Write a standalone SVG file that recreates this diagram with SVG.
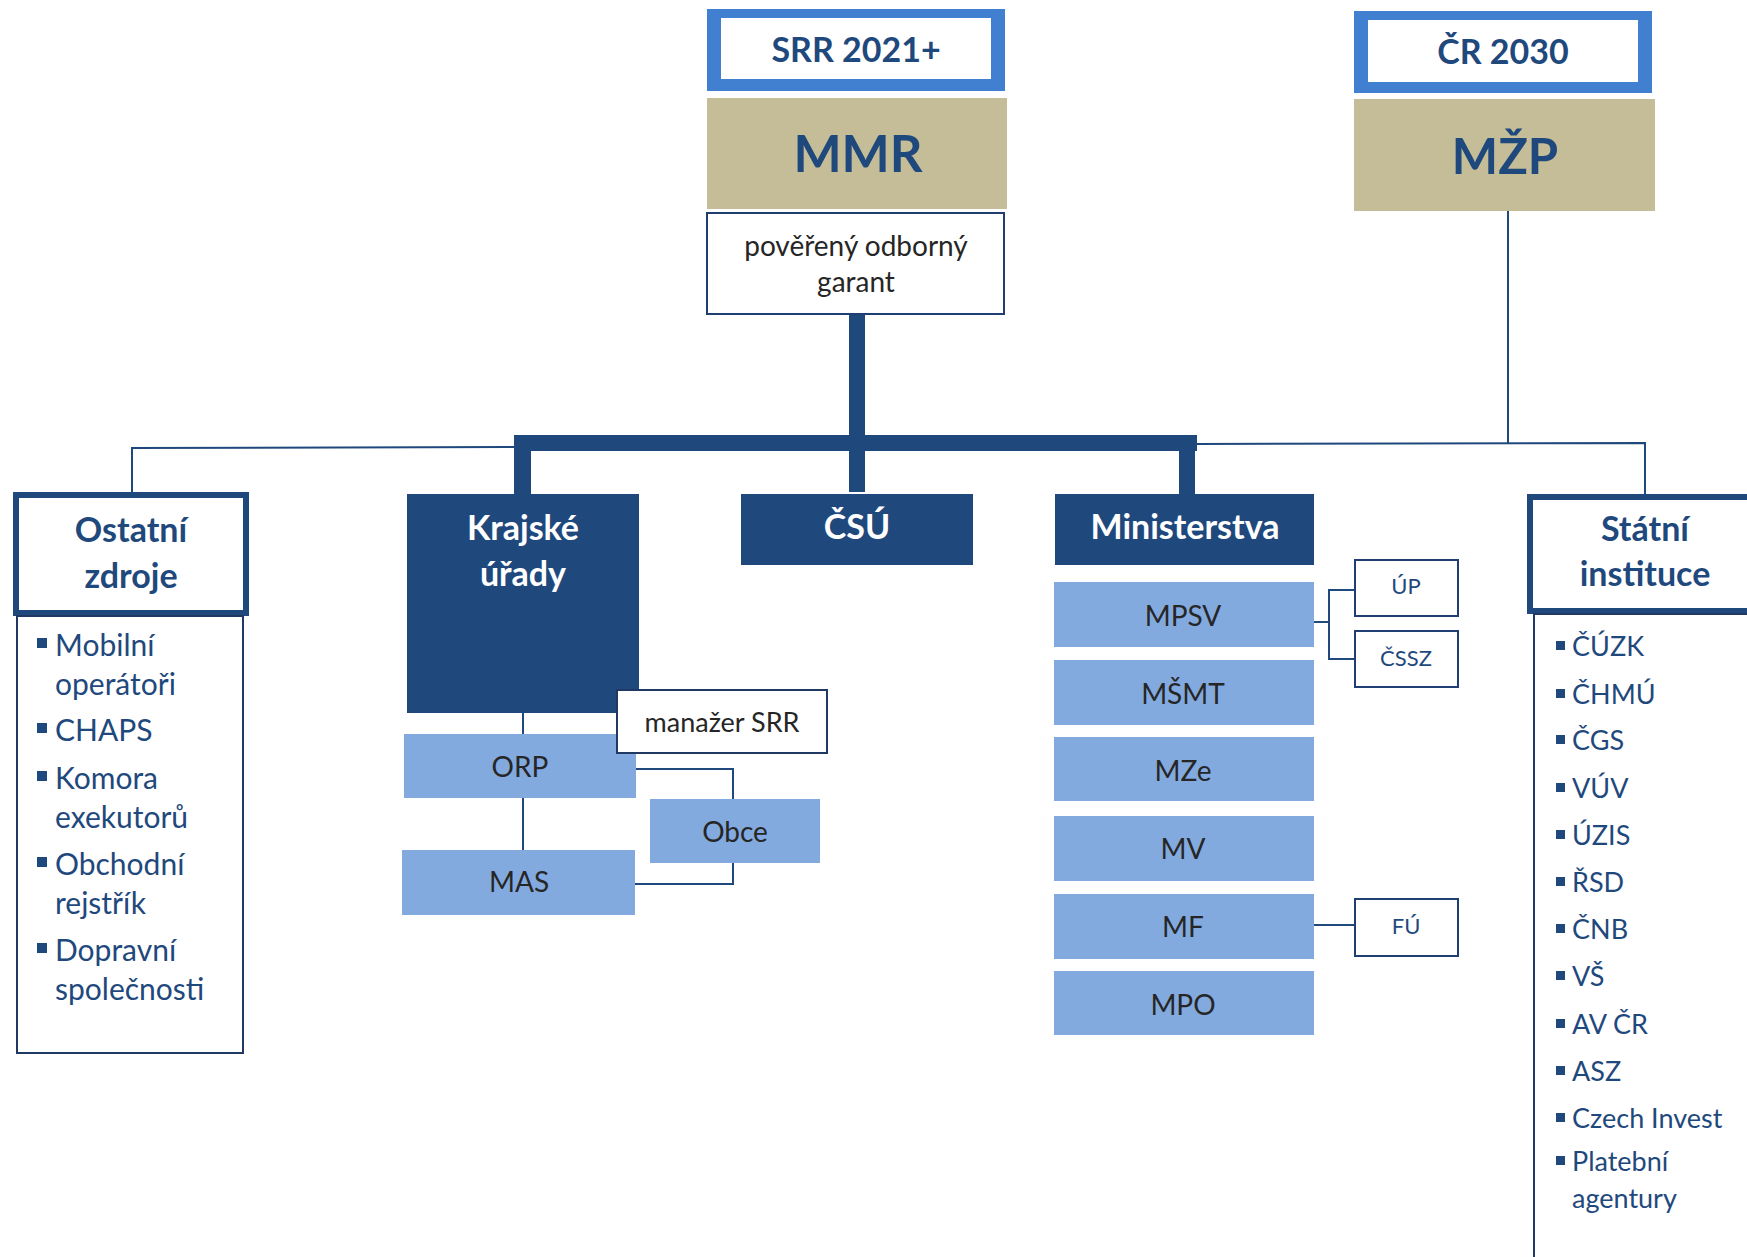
<svg xmlns="http://www.w3.org/2000/svg" width="1747" height="1257" viewBox="0 0 1747 1257">
<style>
text{font-family:Lato,"Open Sans","Liberation Sans",sans-serif;text-anchor:middle}
.navy{fill:#1F497D}
.light{fill:#82AADF}
.tan{fill:#C4BD97}
.hdr{font-weight:700;font-size:34px;fill:#1F497D}
.wt{font-weight:700;font-size:34px;fill:#fff}
.dk{font-size:28px;fill:#262626}
.sm{font-size:22px;fill:#1F497D}
.li{font-size:30px;fill:#1F497D;text-anchor:start}
.ri{font-size:27px;fill:#1F497D;text-anchor:start}
.thin{fill:none;stroke:#1F497D;stroke-width:2}
.thick{fill:#1F497D}
.box{fill:#fff;stroke:#1F3F73;stroke-width:2}
.bul{fill:#1F497D}
</style>
<g id="connectors">
<rect class="thick" x="849" y="314" width="16" height="125"/>
<rect class="thick" x="514" y="435" width="683" height="16"/>
<rect class="thick" x="514" y="449" width="17" height="46"/>
<rect class="thick" x="849" y="449" width="16" height="43"/>
<rect class="thick" x="1179" y="449" width="16" height="46"/>
<polyline class="thin" points="514,447 132,448 132,494"/>
<polyline class="thin" points="1197,444 1645,443 1645,496"/>
<line class="thin" x1="1508" y1="211" x2="1508" y2="444"/>
<line class="thin" x1="523" y1="712" x2="523" y2="735"/>
<line class="thin" x1="523" y1="797" x2="523" y2="851"/>
<polyline class="thin" points="635,769 733,769 733,800"/>
<polyline class="thin" points="733,862 733,884 634,884"/>
<polyline class="thin" points="1313,622 1329,622"/>
<polyline class="thin" points="1355,590 1329,590 1329,659 1355,659"/>
<line class="thin" x1="1313" y1="925" x2="1355" y2="925"/>
</g>
<g id="srr">
<rect x="707" y="9" width="298" height="82" fill="#4180D0"/>
<rect x="721" y="18" width="270" height="61" fill="#fff"/>
<text x="856" y="62" style="font-weight:700;font-size:34px;fill:#1F497D">SRR 2021+</text>
</g>
<g id="cr2030">
<rect x="1354" y="11" width="298" height="82" fill="#4180D0"/>
<rect x="1368" y="20" width="270" height="62" fill="#fff"/>
<text x="1503" y="64" style="font-weight:700;font-size:34px;fill:#1F497D">ČR 2030</text>
</g>
<g id="mmr">
<rect class="tan" x="707" y="98" width="300" height="111"/>
<text x="858" y="172" style="font-weight:700;font-size:51px;fill:#1F497D">MMR</text>
</g>
<g id="mzp">
<rect class="tan" x="1354" y="99" width="301" height="112"/>
<text x="1505" y="174" style="font-weight:700;font-size:49px;fill:#1F497D">MŽP</text>
</g>
<g id="garant">
<rect class="box" x="707" y="213" width="297" height="101"/>
<text class="dk" x="856" y="256">pověřený odborný</text>
<text class="dk" x="856" y="292">garant</text>
</g>
<g id="ostatni">
<rect x="16" y="495" width="230" height="118" fill="#fff" stroke="#1F497D" stroke-width="6"/>
<text class="hdr" x="131" y="542">Ostatní</text>
<text class="hdr" x="131" y="588">zdroje</text>
</g>
<g id="ostatni-list">
<rect x="17" y="616" width="226" height="437" fill="none" stroke="#1F3864" stroke-width="2"/>
<rect class="bul" x="37" y="638" width="10" height="10"/>
<text class="li" x="55" y="656">Mobilní</text>
<text class="li" x="55" y="695">operátoři</text>
<rect class="bul" x="37" y="723" width="10" height="10"/>
<text class="li" x="55" y="741">CHAPS</text>
<rect class="bul" x="37" y="771" width="10" height="10"/>
<text class="li" x="55" y="789">Komora</text>
<text class="li" x="55" y="828">exekutorů</text>
<rect class="bul" x="37" y="857" width="10" height="10"/>
<text class="li" x="55" y="875">Obchodní</text>
<text class="li" x="55" y="914">rejstřík</text>
<rect class="bul" x="37" y="943" width="10" height="10"/>
<text class="li" x="55" y="961">Dopravní</text>
<text class="li" x="55" y="1000">společnosti</text>
</g>
<g id="krajske">
<rect class="navy" x="407" y="494" width="232" height="219"/>
<text class="wt" x="523" y="540">Krajské</text>
<text class="wt" x="523" y="586">úřady</text>
</g>
<g id="orp">
<rect class="light" x="404" y="734" width="232" height="64"/>
<text class="dk" x="520" y="777">ORP</text>
</g>
<g id="mas">
<rect class="light" x="402" y="850" width="233" height="65"/>
<text class="dk" x="519" y="892">MAS</text>
</g>
<g id="obce">
<rect class="light" x="650" y="799" width="170" height="64"/>
<text class="dk" x="735" y="842">Obce</text>
</g>
<g id="manazer">
<rect x="617" y="690" width="210" height="63" fill="#fff" stroke="#1F3864" stroke-width="2"/>
<text class="dk" x="722" y="732" style="font-size:27px">manažer SRR</text>
</g>
<g id="csu">
<rect class="navy" x="741" y="494" width="232" height="71"/>
<text class="wt" x="857" y="539">ČSÚ</text>
</g>
<g id="ministerstva">
<rect class="navy" x="1055" y="494" width="259" height="71"/>
<text class="wt" x="1185" y="539">Ministerstva</text>
</g>
<g id="mpsv"><rect class="light" x="1054" y="582" width="260" height="65"/><text class="dk" x="1183" y="626">MPSV</text></g>
<g id="msmt"><rect class="light" x="1054" y="660" width="260" height="65"/><text class="dk" x="1183" y="704">MŠMT</text></g>
<g id="mze"><rect class="light" x="1054" y="737" width="260" height="64"/><text class="dk" x="1183" y="781">MZe</text></g>
<g id="mv"><rect class="light" x="1054" y="816" width="260" height="65"/><text class="dk" x="1183" y="859">MV</text></g>
<g id="mf"><rect class="light" x="1054" y="894" width="260" height="65"/><text class="dk" x="1183" y="937">MF</text></g>
<g id="mpo"><rect class="light" x="1054" y="971" width="260" height="64"/><text class="dk" x="1183" y="1015">MPO</text></g>
<g id="up"><rect class="box" x="1355" y="560" width="103" height="56"/><text class="sm" x="1406" y="594">ÚP</text></g>
<g id="cssz"><rect class="box" x="1355" y="631" width="103" height="56"/><text class="sm" x="1406" y="666">ČSSZ</text></g>
<g id="fu"><rect class="box" x="1355" y="899" width="103" height="57"/><text class="sm" x="1406" y="934">FÚ</text></g>
<g id="statni">
<rect x="1530" y="497" width="300" height="114" fill="#fff" stroke="#1F497D" stroke-width="6"/>
<text class="hdr" x="1645" y="541">Státní</text>
<text class="hdr" x="1645" y="586">instituce</text>
</g>
<g id="statni-list">
<rect x="1534" y="614" width="300" height="700" fill="none" stroke="#1F3864" stroke-width="2"/>
<rect class="bul" x="1556" y="641" width="9" height="9"/><text class="ri" x="1572" y="656">ČÚZK</text>
<rect class="bul" x="1556" y="689" width="9" height="9"/><text class="ri" x="1572" y="704">ČHMÚ</text>
<rect class="bul" x="1556" y="735" width="9" height="9"/><text class="ri" x="1572" y="750">ČGS</text>
<rect class="bul" x="1556" y="783" width="9" height="9"/><text class="ri" x="1572" y="798">VÚV</text>
<rect class="bul" x="1556" y="830" width="9" height="9"/><text class="ri" x="1572" y="845">ÚZIS</text>
<rect class="bul" x="1556" y="877" width="9" height="9"/><text class="ri" x="1572" y="892">ŘSD</text>
<rect class="bul" x="1556" y="924" width="9" height="9"/><text class="ri" x="1572" y="939">ČNB</text>
<rect class="bul" x="1556" y="971" width="9" height="9"/><text class="ri" x="1572" y="986">VŠ</text>
<rect class="bul" x="1556" y="1019" width="9" height="9"/><text class="ri" x="1572" y="1034">AV ČR</text>
<rect class="bul" x="1556" y="1066" width="9" height="9"/><text class="ri" x="1572" y="1081">ASZ</text>
<rect class="bul" x="1556" y="1113" width="9" height="9"/><text class="ri" x="1572" y="1128">Czech Invest</text>
<rect class="bul" x="1556" y="1156" width="9" height="9"/><text class="ri" x="1572" y="1171">Platební</text>
<text class="ri" x="1572" y="1208">agentury</text>
</g>
</svg>
